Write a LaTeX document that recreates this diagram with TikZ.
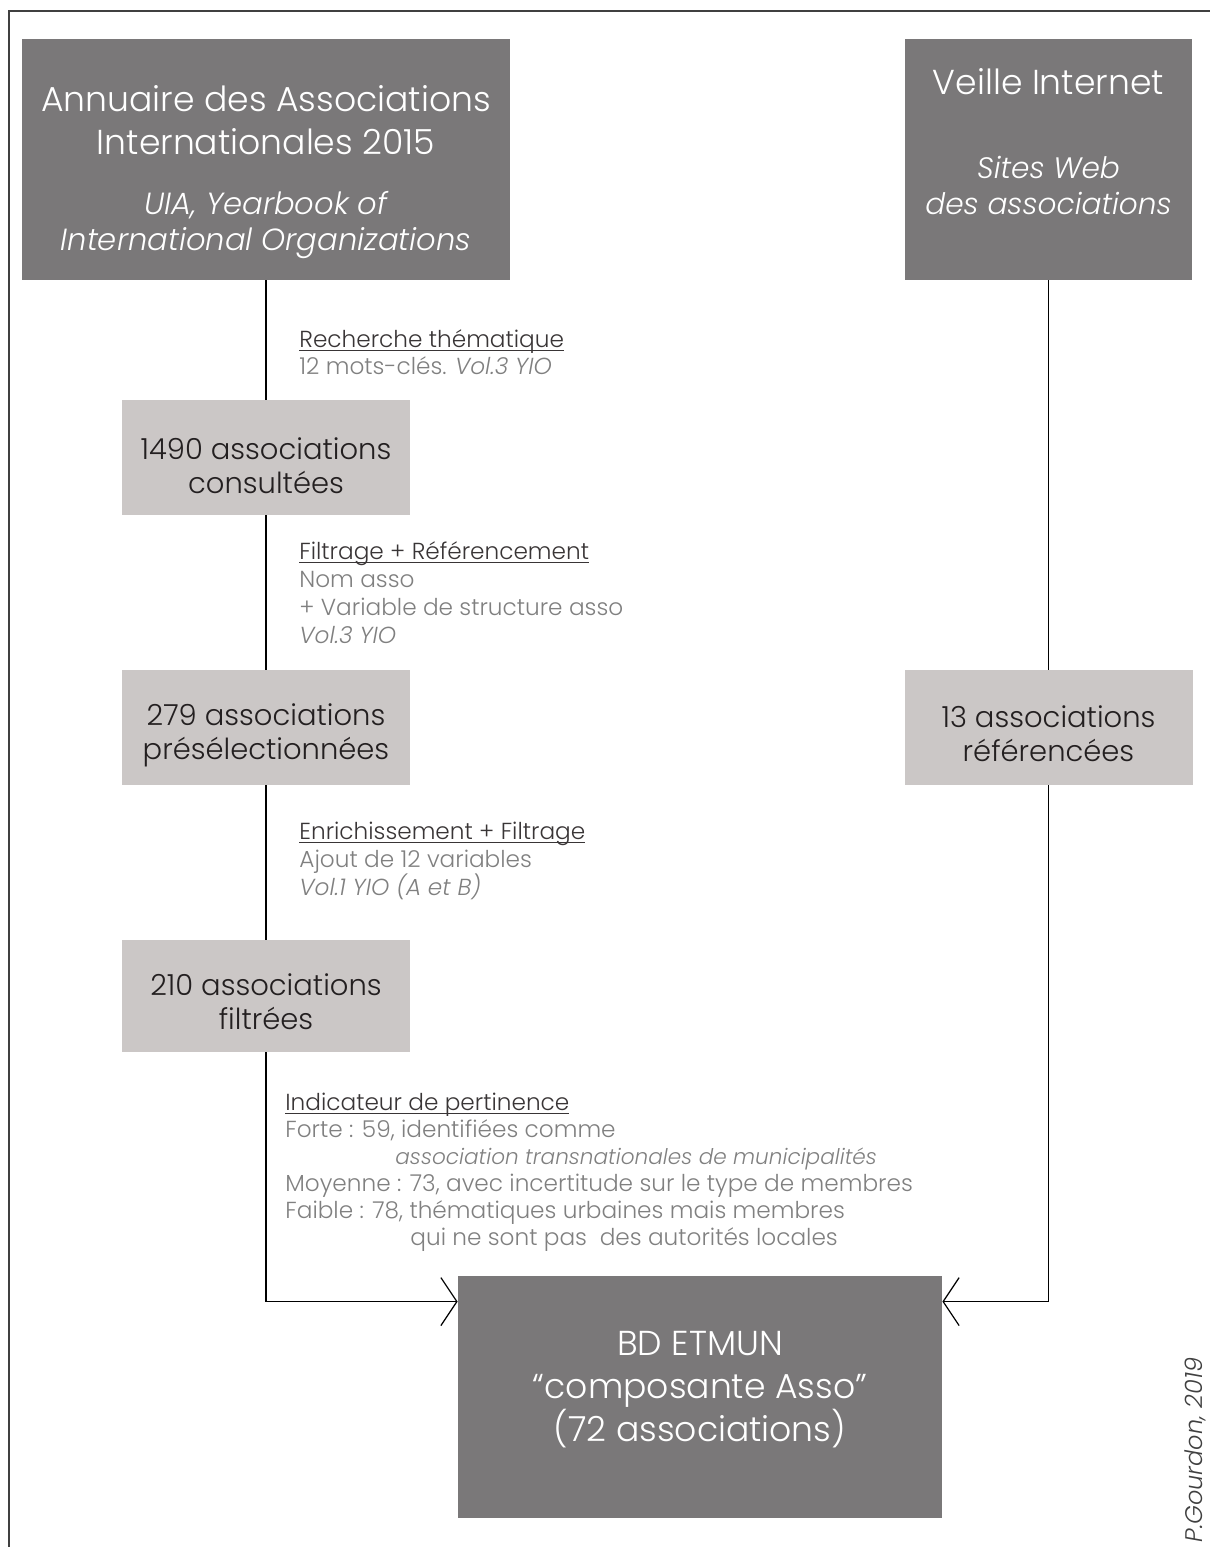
\documentclass[tikz,border=0pt]{standalone}
\usepackage{fontspec}
\setmainfont{Poppins}[UprightFont=* Light, ItalicFont=* Light Italic]
\usetikzlibrary{arrows.meta,positioning}
\definecolor{boxdark}{RGB}{122,120,121}
\definecolor{boxlight}{RGB}{203,199,198}
\definecolor{txtdark}{RGB}{35,31,32}
\definecolor{txtgray}{RGB}{128,128,128}
\newcommand{\ulword}[1]{\setbox0\hbox{#1}\rlap{\rule[-1.9pt]{\wd0}{0.55pt}}\box0}

\begin{document}
\begin{tikzpicture}[x=0.5pt,y=-0.5pt,
    darkbox/.style={fill=boxdark},
    countbox/.style={fill=boxlight, minimum width=144pt, minimum height=57.5pt},
    counttxt/.style={text=txtdark, align=center, font=\fontsize{14.5}{17}\selectfont},
    boxtitle/.style={text=white, align=center, font=\fontsize{17.3}{21.5}\selectfont},
    steplabel/.style={anchor=base west, text=txtgray, font=\fontsize{11.6}{13.5}\selectfont},
    stephead/.style={steplabel, text=txtdark!90},
    link/.style={draw=black, line width=0.6pt},
    linkarrow/.style={link, -{Straight Barb[length=8pt,width=24pt,line width=0.6pt]}}]
    \tikzstyle{every node}+=[inner sep=0pt]
    \useasboundingbox (0,0) rectangle (1210,1547);
    \draw [black!75, line width=0.8pt] (9,1547) -- (9,11) -- (1210,11);
    \node [darkbox, minimum width=244pt, minimum height=120.5pt] (annuaire) at (266,159.5) {};
    \node [boxtitle] (annuairetxt) at (266,172) {Annuaire des Associations\\Internationales 2015\\[8.5pt]{\fontsize{15.3}{18}\selectfont\itshape UIA, Yearbook of}\\[-3.5pt]{\fontsize{15.3}{18}\selectfont\itshape International Organizations}};
    \node [darkbox, minimum width=143.5pt, minimum height=120.5pt] (veille) at (1048.5,159.5) {};
    \node [boxtitle] (veilletxt) at (1048.5,142) {Veille Internet\\[20.5pt]{\fontsize{14.8}{18}\selectfont\itshape Sites Web}\\[-3.5pt]{\fontsize{14.8}{18}\selectfont\itshape des associations}};
    \node [countbox] (c1490) at (266,457.5) {};
    \node [counttxt] (c1490txt) at ([yshift=-4pt]c1490) {1490 associations\\consultées};
    \node [countbox] (c279) at (266,727.5) {};
    \node [counttxt] (c279txt) at ([yshift=-4pt]c279) {279 associations\\présélectionnées};
    \node [countbox] (c13) at (1048.5,727.5) {};
    \node [counttxt] (c13txt) at ([yshift=-3pt]c13) {13 associations\\référencées};
    \node [countbox, minimum height=56pt] (c210) at (266,996) {};
    \node [counttxt] (c210txt) at ([yshift=-3pt]c210) {210 associations\\filtrées};
    \node [darkbox, minimum width=242pt, minimum height=121pt] (bdetmun) at (700,1397) {};
    \node [boxtitle] (bdetmuntxt) at (700,1390) {BD ETMUN\\“composante Asso”\\(72 associations)};
    \draw [link] (annuaire) -- (c1490);
    \draw [link] (c1490) -- (c279);
    \draw [link] (c279) -- (c210);
    \draw [linkarrow] (c210.south) |- ([yshift=-13pt]bdetmun.north west);
    \draw [link] (veille) -- (c13);
    \draw [linkarrow] (c13.south) |- ([yshift=-13pt]bdetmun.north east);
    \node [stephead] (rech) at (299,347) {\ulword{Recherche thématique}};
    \node [steplabel] (rech1) at (299,374) {12 mots-clés. \textit{Vol.3 YIO}};
    \node [stephead] (filt) at (299,559) {\ulword{Filtrage + Référencement}};
    \node [steplabel] (filt1) at (299,587) {Nom asso};
    \node [steplabel] (filt2) at (299,615) {+ Variable de structure asso};
    \node [steplabel] (filt3) at (299,643) {\textit{Vol.3 YIO}};
    \node [stephead] (enri) at (299,839) {\ulword{Enrichissement + Filtrage}};
    \node [steplabel] (enri1) at (299,867) {Ajout de 12 variables};
    \node [steplabel] (enri2) at (299,895) {\textit{Vol.1 YIO (A et B)}};
    \node [stephead] (pert) at (285,1110) {\ulword{Indicateur de pertinence}};
    \node [steplabel] (pert1) at (285,1137) {Forte : 59, identifiées comme};
    \node [steplabel, font=\fontsize{10.8}{13.5}\selectfont] (pert2) at (395,1164) {\textit{association transnationales de municipalités}};
    \node [steplabel] (pert3) at (285,1191) {Moyenne : 73, avec incertitude sur le type de membres};
    \node [steplabel] (pert4) at (285,1218) {Faible : 78, thématiques urbaines mais membres};
    \node [steplabel] (pert5) at (410,1245) {qui ne sont pas~ des autorités locales};
    \node [rotate=90, text=black!75, font=\fontsize{12}{14}\selectfont\itshape] (credit) at (1195,1450) {P.Gourdon, 2019};
\end{tikzpicture}
\end{document}
